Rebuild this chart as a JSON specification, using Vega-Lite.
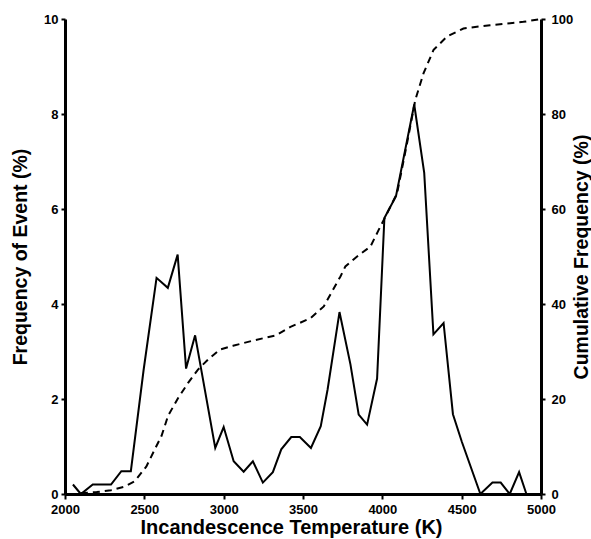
{
  "$schema": "https://vega.github.io/schema/vega-lite/v6.json",
  "width": 476,
  "height": 475,
  "autosize": {"type": "none"},
  "padding": {"left": 65, "top": 19, "right": 50, "bottom": 45},
  "background": "white",
  "config": {
    "view": {"stroke": null},
    "axis": {
      "grid": false,
      "labelFont": "Liberation Sans",
      "labelFontWeight": "bold",
      "labelFontSize": 13,
      "labelColor": "#000000",
      "titleFont": "Liberation Sans",
      "titleFontWeight": "bold",
      "titleColor": "#000000"
    }
  },
  "datasets": {
    "freq": [
      {"T": 2050, "F": 0.2}, {"T": 2100, "F": 0.0}, {"T": 2175, "F": 0.2}, {"T": 2290, "F": 0.2},
      {"T": 2355, "F": 0.48}, {"T": 2415, "F": 0.48}, {"T": 2495, "F": 2.6}, {"T": 2577, "F": 4.55},
      {"T": 2648, "F": 4.34}, {"T": 2710, "F": 5.04}, {"T": 2763, "F": 2.64}, {"T": 2820, "F": 3.34},
      {"T": 2947, "F": 0.97}, {"T": 3000, "F": 1.41}, {"T": 3063, "F": 0.69}, {"T": 3126, "F": 0.47},
      {"T": 3184, "F": 0.69}, {"T": 3247, "F": 0.24}, {"T": 3310, "F": 0.46}, {"T": 3363, "F": 0.94},
      {"T": 3426, "F": 1.2}, {"T": 3480, "F": 1.2}, {"T": 3550, "F": 0.97}, {"T": 3612, "F": 1.43},
      {"T": 3655, "F": 2.2}, {"T": 3730, "F": 3.83}, {"T": 3799, "F": 2.73}, {"T": 3851, "F": 1.67},
      {"T": 3904, "F": 1.46}, {"T": 3967, "F": 2.43}, {"T": 4013, "F": 5.81}, {"T": 4086, "F": 6.27},
      {"T": 4201, "F": 8.2}, {"T": 4264, "F": 6.76}, {"T": 4322, "F": 3.36}, {"T": 4386, "F": 3.6},
      {"T": 4445, "F": 1.68}, {"T": 4501, "F": 1.1}, {"T": 4618, "F": 0.0}, {"T": 4694, "F": 0.24},
      {"T": 4746, "F": 0.24}, {"T": 4803, "F": 0.0}, {"T": 4862, "F": 0.46}, {"T": 4908, "F": 0.0}
    ],
    "cum": [
      {"T": 2100, "C": 0.2}, {"T": 2200, "C": 0.4}, {"T": 2290, "C": 0.8}, {"T": 2380, "C": 1.6},
      {"T": 2440, "C": 2.7}, {"T": 2513, "C": 5.8}, {"T": 2566, "C": 9.4}, {"T": 2608, "C": 12.2},
      {"T": 2650, "C": 16.5}, {"T": 2713, "C": 20.2}, {"T": 2776, "C": 23.4}, {"T": 2838, "C": 26.2},
      {"T": 2901, "C": 28.3}, {"T": 2975, "C": 30.4}, {"T": 3059, "C": 31.2}, {"T": 3185, "C": 32.3},
      {"T": 3331, "C": 33.4}, {"T": 3421, "C": 35.2}, {"T": 3478, "C": 36.0}, {"T": 3547, "C": 37.0},
      {"T": 3631, "C": 39.5}, {"T": 3736, "C": 45.8}, {"T": 3767, "C": 47.9}, {"T": 3841, "C": 50.0},
      {"T": 3925, "C": 52.1}, {"T": 3977, "C": 55.6}, {"T": 4030, "C": 59.1}, {"T": 4093, "C": 63.3},
      {"T": 4156, "C": 73.9}, {"T": 4208, "C": 83.0}, {"T": 4260, "C": 88.6}, {"T": 4323, "C": 93.5},
      {"T": 4407, "C": 96.3}, {"T": 4511, "C": 98.0}, {"T": 4679, "C": 98.7}, {"T": 4889, "C": 99.4},
      {"T": 4983, "C": 99.9}
    ]
  },
  "layer": [
    {
      "data": {"name": "freq"},
      "mark": {"type": "line", "color": "black", "strokeWidth": 2},
      "encoding": {
        "x": {
          "field": "T", "type": "quantitative",
          "scale": {"domain": [2000, 5000], "nice": false},
          "axis": {
            "title": "Incandescence Temperature (K)",
            "titleFontSize": 20,
            "titlePadding": 1,
            "titleX": 226,
            "tickCount": 6,
            "format": "d",
            "labelFlush": false,
            "domainColor": "black",
            "domainWidth": 3,
            "ticks": true,
            "tickColor": "black",
            "tickWidth": 2,
            "tickSize": 5,
            "labelPadding": 4
          }
        },
        "y": {
          "field": "F", "type": "quantitative",
          "scale": {"domain": [0, 10], "nice": false},
          "axis": {
            "orient": "left",
            "title": "Frequency of Event (%)",
            "titleFontSize": 19.5,
            "tickCount": 5,
            "domainColor": "black",
            "domainWidth": 3,
            "ticks": true,
            "tickColor": "black",
            "tickWidth": 2,
            "tickSize": 4,
            "labelPadding": 3,
            "titlePadding": 13
          }
        }
      }
    },
    {
      "data": {"name": "cum"},
      "mark": {"type": "line", "color": "black", "strokeWidth": 2, "strokeDash": [7, 5]},
      "encoding": {
        "x": {"field": "T", "type": "quantitative"},
        "y": {
          "field": "C", "type": "quantitative",
          "scale": {"domain": [0, 100], "nice": false},
          "axis": {
            "orient": "right",
            "title": "Cumulative Frequency (%)",
            "titleFontSize": 19.5,
            "titleAngle": -90,
            "tickCount": 5,
            "domainColor": "black",
            "domainWidth": 3,
            "ticks": true,
            "tickColor": "black",
            "tickWidth": 2,
            "tickSize": 4,
            "labelPadding": 6,
            "titlePadding": 19
          }
        }
      }
    }
  ],
  "resolve": {"scale": {"y": "independent"}, "axis": {"y": "independent"}}
}
